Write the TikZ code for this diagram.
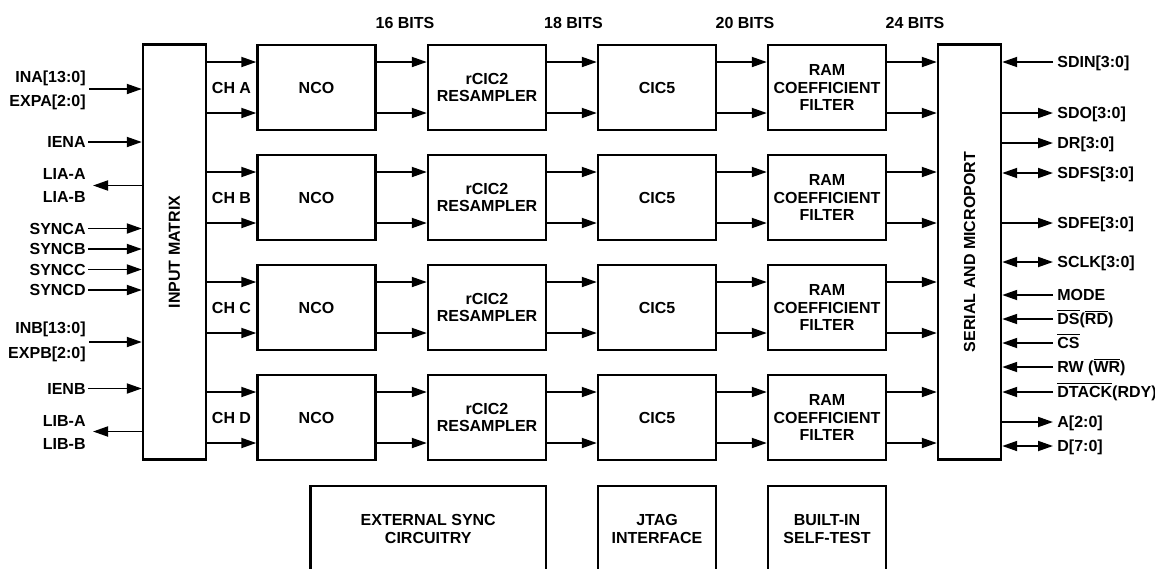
\documentclass[tikz,border=0pt]{standalone}
\usepackage{fontspec}
\setmainfont{Liberation Sans}
\usetikzlibrary{arrows.meta,calc}

\newcommand{\notsig}[1]{$\overline{\hbox{#1}}$}

\begin{document}
\begin{tikzpicture}[x=0.5pt,y=-0.5pt]

\tikzset{
  every node/.style={font=\bfseries\fontsize{8}{8.6}\selectfont},
  block/.style={draw, line width=1.2pt, minimum width=59pt, minimum height=42.5pt,
    align=center, inner sep=0pt},
  tall block/.style={draw, line width=1.2pt, minimum width=31.5pt, minimum height=207.5pt,
    inner sep=0pt},
  pin/.style={inner sep=1pt, text height=5.8pt, text depth=0pt},
  sig/.style={line width=0.9pt, -{Triangle[length=7.5pt,width=5pt]}},
  bisig/.style={line width=0.9pt, {Triangle[length=7.5pt,width=5pt]}-{Triangle[length=7.5pt,width=5pt]}},
  hi/.style={yshift=12.75pt},
  lo/.style={yshift=-12.75pt},
}

\useasboundingbox (0,0) rectangle (1155,568);

% Input matrix and serial port
\node[tall block] (mtx) at (174.5,252) {};
\node[rotate=90] (mtxlbl) at (mtx) {INPUT MATRIX};
\node[tall block] (ser) at (969.5,252) {};
\node[rotate=90] (serlbl) at (ser) {SERIAL AND MICROPORT};

% Bit widths
\node (b16) at (405,22.5) {16 BITS};
\node (b18) at (573.5,22.5) {18 BITS};
\node (b20) at (745,22.5) {20 BITS};
\node (b24) at (915,22.5) {24 BITS};

% Channel A
\node (chA) at (231.5,87.5) {CH A};
\node[block] (ncoA) at (316.5,87.5) {NCO};
\node[block] (rcicA) at (487,87.5) {rCIC2\\RESAMPLER};
\node[block] (cicA) at (657,87.5) {CIC5};
\node[block] (ramA) at (827,87.5) {RAM\\COEFFICIENT\\FILTER};

% Channel B
\node (chB) at (231.5,197.5) {CH B};
\node[block] (ncoB) at (316.5,197.5) {NCO};
\node[block] (rcicB) at (487,197.5) {rCIC2\\RESAMPLER};
\node[block] (cicB) at (657,197.5) {CIC5};
\node[block] (ramB) at (827,197.5) {RAM\\COEFFICIENT\\FILTER};

% Channel C
\node (chC) at (231.5,307.5) {CH C};
\node[block] (ncoC) at (316.5,307.5) {NCO};
\node[block] (rcicC) at (487,307.5) {rCIC2\\RESAMPLER};
\node[block] (cicC) at (657,307.5) {CIC5};
\node[block] (ramC) at (827,307.5) {RAM\\COEFFICIENT\\FILTER};

% Channel D
\node (chD) at (231.5,417.5) {CH D};
\node[block] (ncoD) at (316.5,417.5) {NCO};
\node[block] (rcicD) at (487,417.5) {rCIC2\\RESAMPLER};
\node[block] (cicD) at (657,417.5) {CIC5};
\node[block] (ramD) at (827,417.5) {RAM\\COEFFICIENT\\FILTER};

% Bottom blocks
\node[block, minimum width=117.75pt, minimum height=43pt] (extsync) at (428.25,529) {EXTERNAL SYNC\\CIRCUITRY};
\node[block, minimum height=43pt] (jtag) at (657,529) {JTAG\\INTERFACE};
\node[block, minimum height=43pt] (bist) at (827,529) {BUILT-IN\\SELF-TEST};

% Channel paths
\draw[sig] ([hi]mtx.east |- ncoA.west) -- ([hi]ncoA.west);
\draw[sig] ([lo]mtx.east |- ncoA.west) -- ([lo]ncoA.west);
\draw[sig] ([hi]ncoA.east) -- ([hi]rcicA.west);
\draw[sig] ([lo]ncoA.east) -- ([lo]rcicA.west);
\draw[sig] ([hi]rcicA.east) -- ([hi]cicA.west);
\draw[sig] ([lo]rcicA.east) -- ([lo]cicA.west);
\draw[sig] ([hi]cicA.east) -- ([hi]ramA.west);
\draw[sig] ([lo]cicA.east) -- ([lo]ramA.west);
\draw[sig] ([hi]ramA.east) -- ([hi]ser.west |- ramA.east);
\draw[sig] ([lo]ramA.east) -- ([lo]ser.west |- ramA.east);

\draw[sig] ([hi]mtx.east |- ncoB.west) -- ([hi]ncoB.west);
\draw[sig] ([lo]mtx.east |- ncoB.west) -- ([lo]ncoB.west);
\draw[sig] ([hi]ncoB.east) -- ([hi]rcicB.west);
\draw[sig] ([lo]ncoB.east) -- ([lo]rcicB.west);
\draw[sig] ([hi]rcicB.east) -- ([hi]cicB.west);
\draw[sig] ([lo]rcicB.east) -- ([lo]cicB.west);
\draw[sig] ([hi]cicB.east) -- ([hi]ramB.west);
\draw[sig] ([lo]cicB.east) -- ([lo]ramB.west);
\draw[sig] ([hi]ramB.east) -- ([hi]ser.west |- ramB.east);
\draw[sig] ([lo]ramB.east) -- ([lo]ser.west |- ramB.east);

\draw[sig] ([hi]mtx.east |- ncoC.west) -- ([hi]ncoC.west);
\draw[sig] ([lo]mtx.east |- ncoC.west) -- ([lo]ncoC.west);
\draw[sig] ([hi]ncoC.east) -- ([hi]rcicC.west);
\draw[sig] ([lo]ncoC.east) -- ([lo]rcicC.west);
\draw[sig] ([hi]rcicC.east) -- ([hi]cicC.west);
\draw[sig] ([lo]rcicC.east) -- ([lo]cicC.west);
\draw[sig] ([hi]cicC.east) -- ([hi]ramC.west);
\draw[sig] ([lo]cicC.east) -- ([lo]ramC.west);
\draw[sig] ([hi]ramC.east) -- ([hi]ser.west |- ramC.east);
\draw[sig] ([lo]ramC.east) -- ([lo]ser.west |- ramC.east);

\draw[sig] ([hi]mtx.east |- ncoD.west) -- ([hi]ncoD.west);
\draw[sig] ([lo]mtx.east |- ncoD.west) -- ([lo]ncoD.west);
\draw[sig] ([hi]ncoD.east) -- ([hi]rcicD.west);
\draw[sig] ([lo]ncoD.east) -- ([lo]rcicD.west);
\draw[sig] ([hi]rcicD.east) -- ([hi]cicD.west);
\draw[sig] ([lo]rcicD.east) -- ([lo]cicD.west);
\draw[sig] ([hi]cicD.east) -- ([hi]ramD.west);
\draw[sig] ([lo]cicD.east) -- ([lo]ramD.west);
\draw[sig] ([hi]ramD.east) -- ([hi]ser.west |- ramD.east);
\draw[sig] ([lo]ramD.east) -- ([lo]ser.west |- ramD.east);

% Left pins
\node[pin, anchor=east] (ina) at (88,76.5) {INA[13:0]};
\node[pin, anchor=east] (expa) at (88,101) {EXPA[2:0]};
\coordinate (inaexpa) at (89,89);
\node[pin, anchor=east] (iena) at (88,142) {IENA};
\node[pin, anchor=east] (liaa) at (88,174) {LIA-A};
\node[pin, anchor=east] (liab) at (88,197) {LIA-B};
\coordinate (lia) at (93,185.5);
\node[pin, anchor=east] (synca) at (88,228.5) {SYNCA};
\node[pin, anchor=east] (syncb) at (88,249) {SYNCB};
\node[pin, anchor=east] (syncc) at (88,269.5) {SYNCC};
\node[pin, anchor=east] (syncd) at (88,290) {SYNCD};
\node[pin, anchor=east] (inb) at (88,327.5) {INB[13:0]};
\node[pin, anchor=east] (expb) at (88,353) {EXPB[2:0]};
\coordinate (inbexpb) at (89,342);
\node[pin, anchor=east] (ienb) at (88,388.5) {IENB};
\node[pin, anchor=east] (liba) at (88,421) {LIB-A};
\node[pin, anchor=east] (libb) at (88,444) {LIB-B};
\coordinate (lib) at (93,431.5);

\draw[sig] (inaexpa) -- (mtx.west |- inaexpa);
\draw[sig] (iena.east) -- (mtx.west |- iena.east);
\draw[sig] (mtx.west |- lia) -- (lia);
\draw[sig] (synca.east) -- (mtx.west |- synca.east);
\draw[sig] (syncb.east) -- (mtx.west |- syncb.east);
\draw[sig] (syncc.east) -- (mtx.west |- syncc.east);
\draw[sig] (syncd.east) -- (mtx.west |- syncd.east);
\draw[sig] (inbexpb) -- (mtx.west |- inbexpb);
\draw[sig] (ienb.east) -- (mtx.west |- ienb.east);
\draw[sig] (mtx.west |- lib) -- (lib);

% Right pins
\node[pin, anchor=west] (sdin) at (1055,62) {SDIN[3:0]};
\node[pin, anchor=west] (sdo) at (1055,113) {SDO[3:0]};
\node[pin, anchor=west] (dr) at (1055,143) {DR[3:0]};
\node[pin, anchor=west] (sdfs) at (1055,173) {SDFS[3:0]};
\node[pin, anchor=west] (sdfe) at (1055,223) {SDFE[3:0]};
\node[pin, anchor=west] (sclk) at (1055,262) {SCLK[3:0]};
\node[pin, anchor=west] (mode) at (1055,295) {MODE};
\node[pin, anchor=west] (ds) at (1055,319) {\notsig{DS}(\notsig{RD})};
\node[pin, anchor=west] (cs) at (1055,343) {\notsig{CS}};
\node[pin, anchor=west] (rw) at (1055,367) {RW (\notsig{WR})};
\node[pin, anchor=west] (dtack) at (1055,392) {\notsig{DTACK}(RDY)};
\node[pin, anchor=west] (addr) at (1055,422) {A[2:0]};
\node[pin, anchor=west] (data) at (1055,446) {D[7:0]};

\draw[sig] ([xshift=-1pt]sdin.west) -- (ser.east |- sdin.west);
\draw[sig] (ser.east |- sdo.west) -- ([xshift=-1pt]sdo.west);
\draw[sig] (ser.east |- dr.west) -- ([xshift=-1pt]dr.west);
\draw[bisig] (ser.east |- sdfs.west) -- ([xshift=-1pt]sdfs.west);
\draw[sig] (ser.east |- sdfe.west) -- ([xshift=-1pt]sdfe.west);
\draw[bisig] (ser.east |- sclk.west) -- ([xshift=-1pt]sclk.west);
\draw[sig] ([xshift=-1pt]mode.west) -- (ser.east |- mode.west);
\draw[sig] ([xshift=-1pt]ds.west) -- (ser.east |- ds.west);
\draw[sig] ([xshift=-1pt]cs.west) -- (ser.east |- cs.west);
\draw[sig] ([xshift=-1pt]rw.west) -- (ser.east |- rw.west);
\draw[sig] ([xshift=-1pt]dtack.west) -- (ser.east |- dtack.west);
\draw[sig] (ser.east |- addr.west) -- ([xshift=-1pt]addr.west);
\draw[bisig] (ser.east |- data.west) -- ([xshift=-1pt]data.west);

\end{tikzpicture}
\end{document}
